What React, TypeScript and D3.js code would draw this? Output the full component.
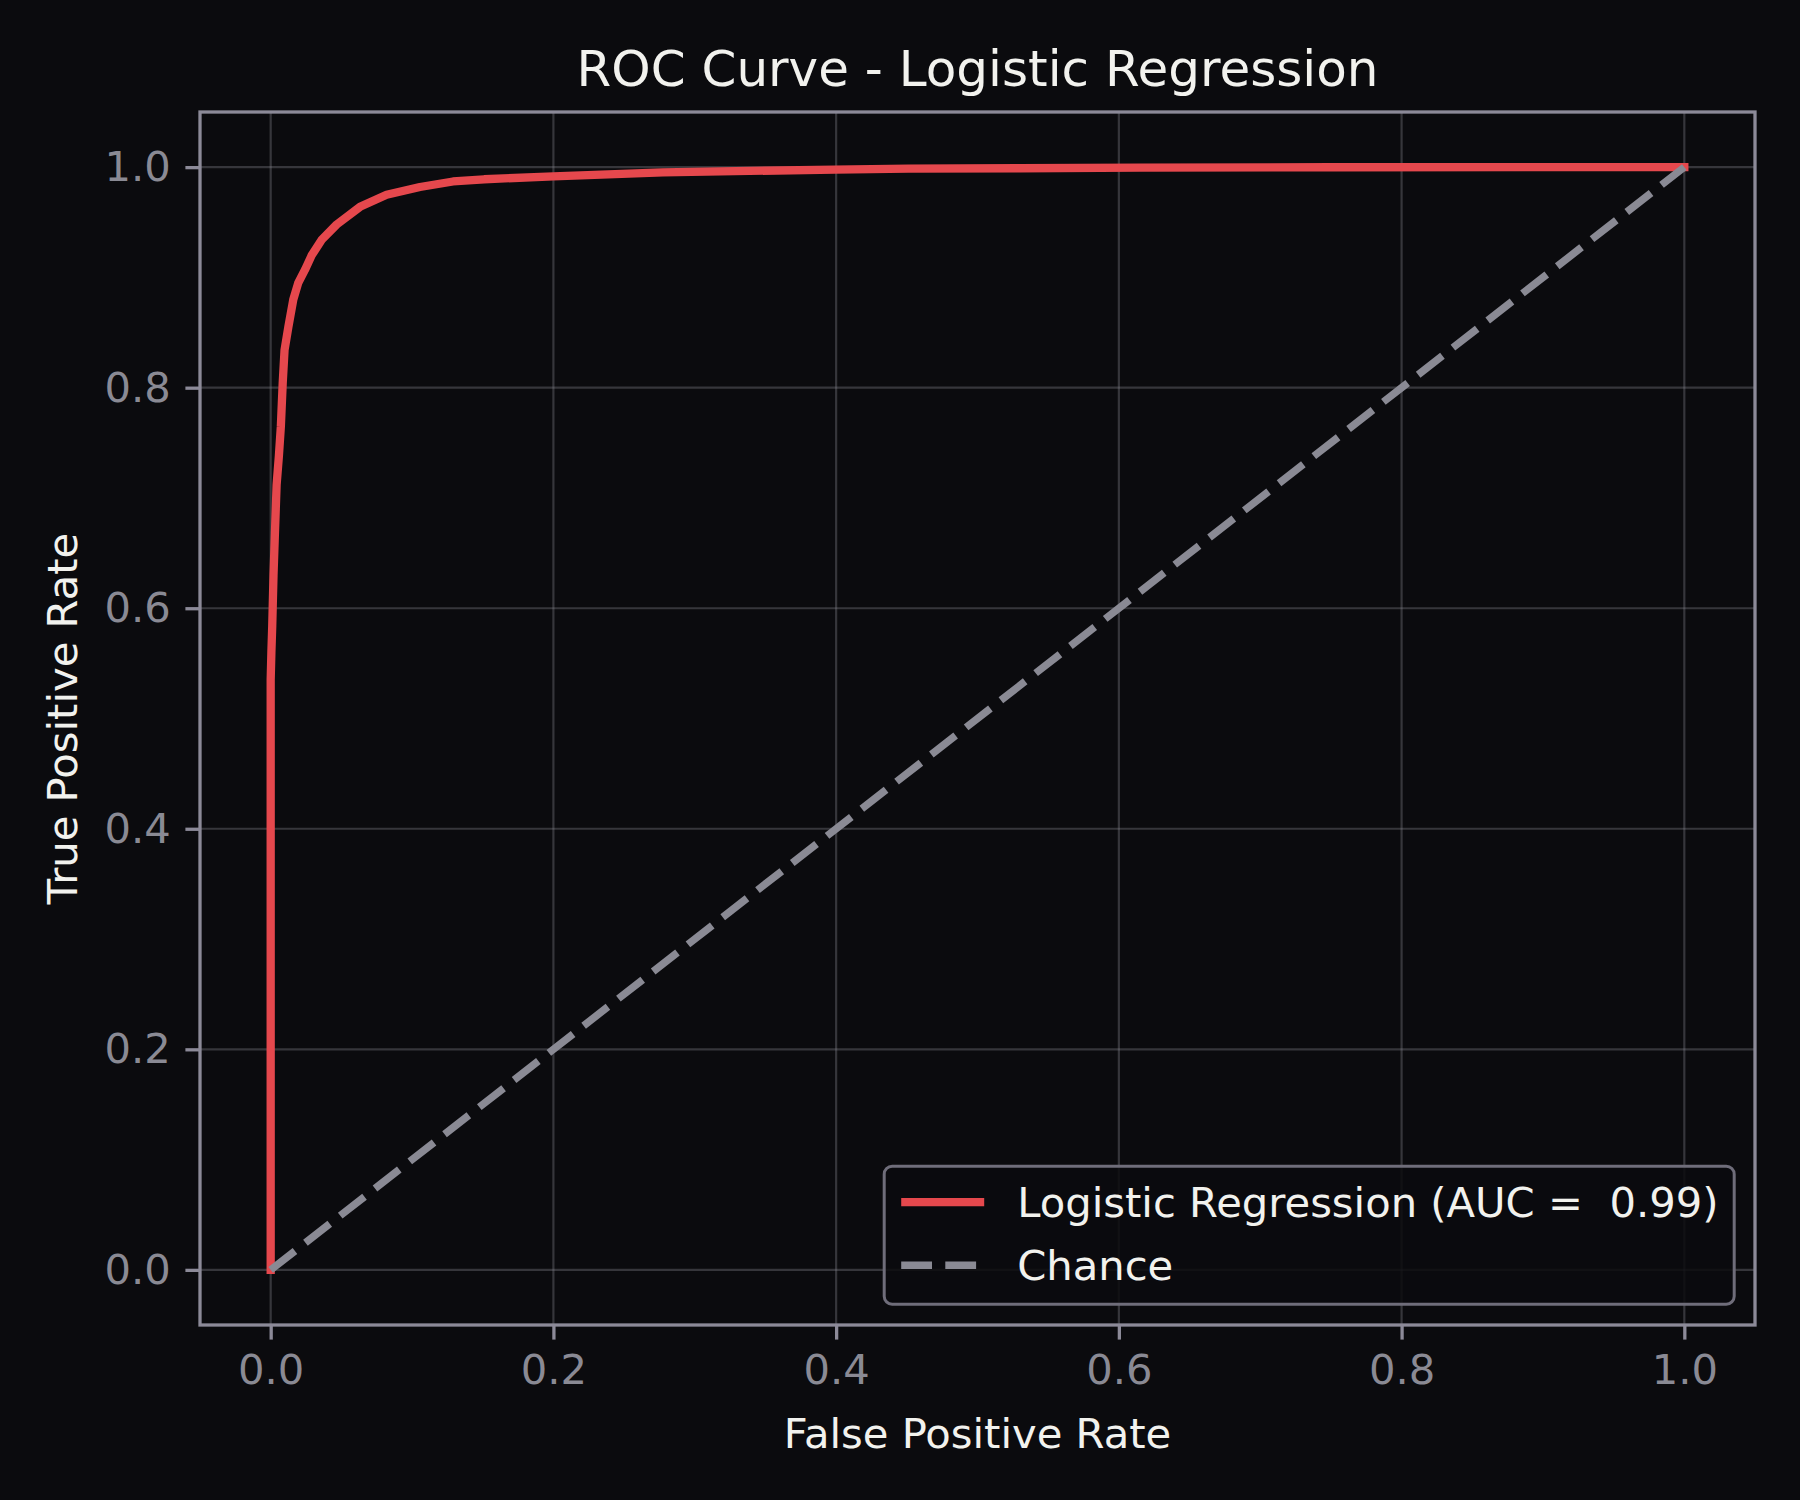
import * as d3 from "d3";
import { useRef, useEffect } from "react";

// ROC points
const fpr = [
  0, 0, 0.0005, 0.0011, 0.002, 0.003, 0.0042, 0.0058, 0.0072, 0.0085, 0.0098,
  0.0125, 0.016, 0.0195, 0.0243, 0.029, 0.036, 0.0467, 0.0632, 0.082, 0.1056,
  0.129, 0.151, 0.2, 0.2775, 0.399, 0.451, 0.53, 0.615, 0.75, 1.0,
];
const tpr = [
  0, 0.535, 0.56, 0.584, 0.63, 0.668, 0.712, 0.738, 0.765, 0.804, 0.834, 0.855,
  0.88, 0.895, 0.907, 0.92, 0.934, 0.948, 0.964, 0.975, 0.982, 0.987, 0.989,
  0.9917, 0.9953, 0.9978, 0.9987, 0.999, 0.9996, 0.9999, 1.0,
];
const chanceX = [0, 1];
const chanceY = [0, 1];
const tickValues = [0, 0.2, 0.4, 0.6, 0.8, 1.0];
const legendLabels = ["Logistic Regression (AUC =  0.99)", "Chance"];

const titleText = "ROC Curve - Logistic Regression";
const xLabelText = "False Positive Rate";
const yLabelText = "True Positive Rate";

export default function App() {
  const width = 1800;
  const height = 1500;
  const marginLeft = 200;
  const marginRight = 45;
  const marginTop = 112;
  const marginBottom = 175;

  const bg = "#0b0b0e";
  const red = "#e5484d";
  const gray = "#8a8a94";
  const spine = "#8c8a98";
  const white = "#f2f2ee";
  const font = "DejaVu Sans";
  const tickFont = 41.7;

  const ref = useRef(null);

  useEffect((): void => {
    if (!ref.current) return;
    const svg = d3.select(ref.current);
    svg.selectAll("*").remove();

    const x = d3
      .scaleLinear()
      .domain([-0.05, 1.05])
      .range([marginLeft, width - marginRight]);
    const y = d3
      .scaleLinear()
      .domain([-0.05, 1.05])
      .range([height - marginBottom, marginTop]);

    svg.append("rect").attr("width", width).attr("height", height).attr("fill", bg);

    // grid
    const grid = svg.append("g").attr("stroke", gray).attr("stroke-opacity", 0.34).attr("stroke-width", 2.2);
    grid
      .selectAll(".gx")
      .data(tickValues)
      .enter()
      .append("line")
      .attr("x1", (d) => x(d))
      .attr("x2", (d) => x(d))
      .attr("y1", marginTop)
      .attr("y2", height - marginBottom);
    grid
      .selectAll(".gy")
      .data(tickValues)
      .enter()
      .append("line")
      .attr("y1", (d) => y(d))
      .attr("y2", (d) => y(d))
      .attr("x1", marginLeft)
      .attr("x2", width - marginRight);

    const line = d3
      .line<number>()
      .x((d) => x(d))
      .y((_, i) => y(tpr[i]));

    // roc curve
    svg
      .append("path")
      .datum(fpr)
      .attr("d", line)
      .attr("fill", "none")
      .attr("stroke", red)
      .attr("stroke-width", 8.3)
      .attr("stroke-linejoin", "round")
      .attr("stroke-linecap", "square");

    // chance diagonal
    const chanceLine = d3
      .line<number>()
      .x((d) => x(d))
      .y((_, i) => y(chanceY[i]));
    svg
      .append("path")
      .datum(chanceX)
      .attr("d", chanceLine)
      .attr("fill", "none")
      .attr("stroke", gray)
      .attr("stroke-width", 7.5)
      .attr("stroke-dasharray", "30.8 13.3");

    // spines
    svg
      .append("rect")
      .attr("x", marginLeft)
      .attr("y", marginTop)
      .attr("width", width - marginLeft - marginRight)
      .attr("height", height - marginTop - marginBottom)
      .attr("fill", "none")
      .attr("stroke", spine)
      .attr("stroke-width", 3.3);

    const fmt = d3.format(".1f");
    const xAxis = d3.axisBottom(x).tickValues(tickValues).tickFormat((d) => fmt(d as number)).tickSize(14.6).tickPadding(14.6);
    const yAxis = d3.axisLeft(y).tickValues(tickValues).tickFormat((d) => fmt(d as number)).tickSize(14.6).tickPadding(14.6);

    const styleAxis = (g: d3.Selection<SVGGElement, unknown, null, undefined>) => {
      g.select(".domain").remove();
      g.selectAll("line").attr("stroke", spine).attr("stroke-width", 3.3);
      g.selectAll("text").attr("fill", gray).attr("font-size", tickFont).attr("font-family", font);
    };

    svg
      .append("g")
      .attr("transform", `translate(0, ${height - marginBottom})`)
      .call(xAxis)
      .call(styleAxis);
    svg
      .append("g")
      .attr("transform", `translate(${marginLeft}, 0)`)
      .call(yAxis)
      .call(styleAxis);

    // title and labels
    const cx = (marginLeft + width - marginRight) / 2;
    svg
      .append("text")
      .attr("x", cx)
      .attr("y", 86)
      .attr("text-anchor", "middle")
      .attr("fill", white)
      .attr("font-family", font)
      .attr("font-size", 50)
      .text(titleText);
    svg
      .append("text")
      .attr("x", cx)
      .attr("y", 1448)
      .attr("text-anchor", "middle")
      .attr("fill", white)
      .attr("font-family", font)
      .attr("font-size", tickFont)
      .text(xLabelText);
    svg
      .append("text")
      .attr("transform", `translate(77, ${(marginTop + height - marginBottom) / 2}) rotate(-90)`)
      .attr("text-anchor", "middle")
      .attr("fill", white)
      .attr("font-family", font)
      .attr("font-size", tickFont)
      .text(yLabelText);

    // legend
    const legendRight = width - marginRight - 20.8;
    const legendBottom = height - marginBottom - 20.8;
    const legendW = 850;
    const legendH = 138;
    const lg = svg.append("g").attr("transform", `translate(${legendRight - legendW}, ${legendBottom - legendH})`);
    lg.append("rect")
      .attr("width", legendW)
      .attr("height", legendH)
      .attr("rx", 8)
      .attr("fill", bg)
      .attr("fill-opacity", 0.85)
      .attr("stroke", "#6f6d7a")
      .attr("stroke-width", 3);

    const rowY = d3.scaleLinear().domain([0, 1]).range([36, 99]);
    const items = lg
      .selectAll(".item")
      .data(legendLabels)
      .enter()
      .append("g")
      .attr("transform", (_, i) => `translate(0, ${rowY(i)})`);
    items
      .append("line")
      .attr("x1", 17)
      .attr("x2", 100)
      .attr("stroke", (_, i) => (i === 0 ? red : gray))
      .attr("stroke-width", (_, i) => (i === 0 ? 8.3 : 7.5))
      .attr("stroke-dasharray", (_, i) => (i === 0 ? null : "30.8 13.3"));
    items
      .append("text")
      .attr("x", 133)
      .attr("y", 15)
      .attr("fill", white)
      .attr("font-family", font)
      .attr("font-size", tickFont)
      .style("white-space", "pre")
      .text((d) => d);
  }, []);

  return (
    <div style={{ position: "absolute", left: 0, top: 0 }}>
      <svg ref={ref} width={width} height={height} style={{ display: "block" }} />
    </div>
  );
}
